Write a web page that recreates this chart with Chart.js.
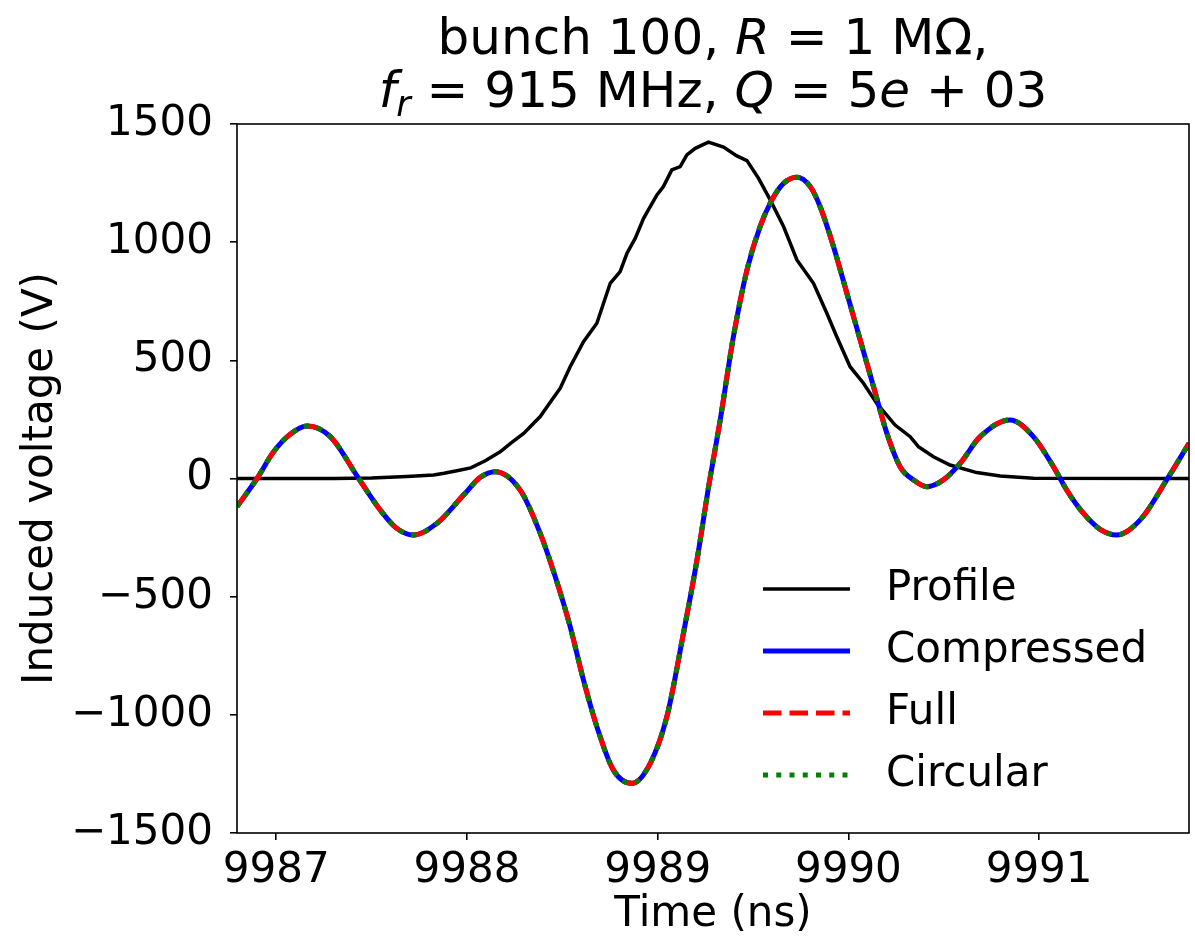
<!DOCTYPE html>
<html>
<head>
<meta charset="utf-8">
<script src="https://cdn.jsdelivr.net/npm/chart.js@4.4.1/dist/chart.umd.min.js"></script>
<style>
  html, body { margin: 0; padding: 0; background: #fff; }
  #wrap { width: 1195px; height: 943px; }
</style>
</head>
<body>
<div id="wrap"><canvas id="myChart" width="1195" height="943"></canvas></div>
<script>
// bunch profile (scaled)
const profileTime = [9986.794, 9987.3, 9987.5, 9987.685, 9987.825, 9987.88, 9987.947, 9988.02, 9988.096,
  9988.174, 9988.23, 9988.297, 9988.384, 9988.43, 9988.489, 9988.541, 9988.611, 9988.681, 9988.751,
  9988.803, 9988.839, 9988.882, 9988.926, 9988.996, 9989.03, 9989.074, 9989.118, 9989.153, 9989.197,
  9989.266, 9989.345, 9989.415, 9989.468, 9989.529, 9989.59, 9989.66, 9989.73, 9989.817, 9989.887,
  9989.939, 9990.009, 9990.079, 9990.149, 9990.245, 9990.324, 9990.367, 9990.446, 9990.533, 9990.673,
  9990.796, 9990.97, 9991.786];
const profileVolt = [0, 0, 2, 8, 15, 22, 33, 45, 75,
  113, 150, 191, 262, 315, 382, 473, 579, 657, 826,
  875, 953, 1016, 1101, 1200, 1235, 1306, 1320, 1369, 1397,
  1423, 1402, 1365, 1345, 1270, 1179, 1066, 925, 826, 699,
  600, 473, 403, 318, 226, 177, 135, 92, 57, 25,
  11, 1, 0];

// induced voltage: compressed, full and circular coincide in the picture
const inducedTime = [9986.794, 9986.899, 9986.986, 9987.07, 9987.161, 9987.283, 9987.432, 9987.545, 9987.63,
  9987.72, 9987.842, 9987.982, 9988.07, 9988.148, 9988.279, 9988.384, 9988.463, 9988.541, 9988.611,
  9988.681, 9988.768, 9988.865, 9988.961, 9989.048, 9989.135, 9989.206, 9989.27, 9989.328, 9989.397,
  9989.468, 9989.537, 9989.599, 9989.66, 9989.73, 9989.8, 9989.852, 9989.922, 9989.992, 9990.062,
  9990.132, 9990.202, 9990.271, 9990.341, 9990.411, 9990.498, 9990.586, 9990.691, 9990.848, 9990.97,
  9991.075, 9991.145, 9991.232, 9991.32, 9991.407, 9991.529, 9991.669, 9991.786];
const compressedVolt = [-119, 0, 113, 185, 222, 177, 0, -133, -210,
  -239, -190, -70, 5, 29, -49, -232, -416, -627, -853,
  -1050, -1234, -1290, -1205, -1008, -655, -345, -20, 248, 600,
  882, 1066, 1179, 1249, 1275, 1235, 1150, 981, 784, 586,
  388, 191, 50, -6, -35, -6, 64, 177, 248, 177,
  50, -49, -147, -215, -239, -176, -6, 149];
const fullVolt = compressedVolt.slice();
const circularVolt = compressedVolt.slice();

const seriesNames = ['Profile', 'Compressed', 'Full', 'Circular'];
const xTicks = [9987, 9988, 9989, 9990, 9991];
const yTicks = [-1500, -1000, -500, 0, 500, 1000, 1500];

const pts = (xs, ys) => xs.map((x, i) => ({x: x, y: ys[i]}));
const FONT = '"DejaVu Sans", sans-serif';

Chart.defaults.font.family = FONT;
Chart.defaults.font.size = 42;
Chart.defaults.color = '#000';

// title with math-italic pieces
const titleLines = [
  [['bunch 100, ', 'n'], ['R', 'i'], [' = 1 M\u03A9,', 'n']],
  [['f', 'i'], ['r', 's'], [' = 915 MHz, ', 'n'], ['Q', 'i'], [' = 5', 'n'], ['e', 'i'], [' + 03', 'n']]
];
const titlePlugin = {
  id: 'mathTitle',
  afterDraw(chart) {
    const ctx = chart.ctx, a = chart.chartArea;
    const cx = (a.left + a.right) / 2;
    const fontOf = k => k === 'i' ? 'italic 50px ' + FONT : k === 's' ? 'italic 35px ' + FONT : '50px ' + FONT;
    ctx.save();
    ctx.fillStyle = '#000';
    ctx.textBaseline = 'alphabetic';
    titleLines.forEach((line, li) => {
      const base = 54 + li * 53;
      let w = 0;
      line.forEach(p => { ctx.font = fontOf(p[1]); w += ctx.measureText(p[0]).width; });
      let x = cx - w / 2;
      line.forEach(p => {
        ctx.font = fontOf(p[1]);
        ctx.fillText(p[0], x, p[1] === 's' ? base + 9 : base);
        x += ctx.measureText(p[0]).width;
      });
    });
    ctx.restore();
  }
};

const framePlugin = {
  id: 'frame',
  afterDatasetsDraw(chart) {
    const ctx = chart.ctx, a = chart.chartArea;
    ctx.save();
    ctx.strokeStyle = '#000';
    ctx.lineWidth = 1.6;
    ctx.strokeRect(a.left, a.top, a.right - a.left, a.bottom - a.top);
    ctx.restore();
  }
};

const legendPlugin = {
  id: 'lineLegend',
  afterDraw(chart) {
    const ctx = chart.ctx, a = chart.chartArea;
    ctx.save();
    ctx.font = '42px ' + FONT;
    ctx.textBaseline = 'middle';
    chart.data.datasets.forEach((ds, i) => {
      const y = a.bottom - 244 + i * 62;
      ctx.beginPath();
      ctx.strokeStyle = ds.borderColor;
      ctx.lineWidth = ds.borderWidth;
      ctx.setLineDash(ds.borderDash || []);
      ctx.moveTo(a.right - 426, y);
      ctx.lineTo(a.right - 339, y);
      ctx.stroke();
      ctx.setLineDash([]);
      ctx.fillStyle = '#000';
      ctx.fillText(ds.label, a.right - 303, y);
    });
    ctx.restore();
  }
};

const ctx = document.getElementById('myChart');
const myChart = new Chart(ctx, {
  type: 'line',
  data: {
    datasets: [
      {label: seriesNames[0], data: pts(profileTime, profileVolt), borderColor: '#000000', borderWidth: 3.5, tension: 0, order: 4},
      {label: seriesNames[1], data: pts(inducedTime, compressedVolt), borderColor: '#0000ff', borderWidth: 5, cubicInterpolationMode: 'monotone', order: 3},
      {label: seriesNames[2], data: pts(inducedTime, fullVolt), borderColor: '#ff0000', borderWidth: 5, borderDash: [18.5, 8], cubicInterpolationMode: 'monotone', order: 2},
      {label: seriesNames[3], data: pts(inducedTime, circularVolt), borderColor: '#008000', borderWidth: 5, borderDash: [5, 8.25], cubicInterpolationMode: 'monotone', order: 1}
    ]
  },
  options: {
    responsive: false,
    animation: false,
    parsing: false,
    elements: { point: { radius: 0 }, line: { fill: false } },
    layout: { padding: { top: 124, right: 6, left: 0, bottom: 0 } },
    plugins: { legend: { display: false }, title: { display: false }, tooltip: { enabled: false } },
    scales: {
      x: {
        type: 'linear',
        min: 9986.794,
        max: 9991.786,
        afterBuildTicks: s => { s.ticks = xTicks.map(v => ({value: v})); },
        afterFit: s => { s.height = 110; },
        grid: { drawOnChartArea: false, drawTicks: true, tickLength: 7, color: '#000', lineWidth: 1.6 },
        border: { display: false },
        ticks: { padding: 6, maxRotation: 0, callback: v => String(v) },
        title: { display: true, text: 'Time (ns)', padding: { top: 0, bottom: 3 } }
      },
      y: {
        min: -1500,
        max: 1500,
        afterBuildTicks: s => { s.ticks = yTicks.map(v => ({value: v})); },
        afterFit: s => { s.width = 237; },
        grid: { drawOnChartArea: false, drawTicks: true, tickLength: 7, color: '#000', lineWidth: 1.6 },
        border: { display: false },
        ticks: { padding: 17, callback: v => v < 0 ? '\u2212' + Math.abs(v) : String(v) },
        title: { display: true, text: 'Induced voltage (V)', padding: { top: 16, bottom: 0 } }
      }
    }
  },
  plugins: [framePlugin, legendPlugin, titlePlugin]
});
</script>
</body>
</html>
